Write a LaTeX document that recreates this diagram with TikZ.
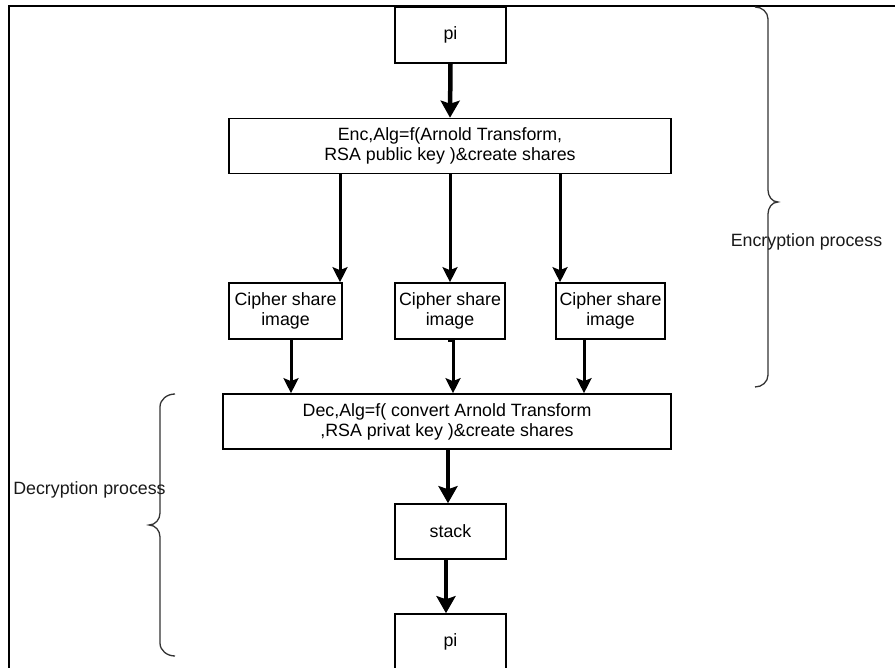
\documentclass[tikz,border=0pt]{standalone}
\usepackage{fontspec}
\setmainfont{Liberation Sans}
\usetikzlibrary{arrows.meta}
\begin{document}
\begin{tikzpicture}[x=1pt,y=-1pt,
  box/.style={draw=black,line width=1.6pt,fill=white,inner sep=0pt,align=center,
    font=\fontsize{17.8}{20}\selectfont,text=black},
  thinarr/.style={line width=3pt,-{Stealth[length=15pt,width=15pt,inset=3pt]}},
  thickarr/.style={line width=4.5pt,-{Stealth[length=17pt,width=19pt,inset=3pt]}},
  bracepath/.style={draw=black!80,line width=1.3pt},
  lbl/.style={font=\fontsize{17.8}{20}\selectfont,text=black!90,inner sep=0pt}]
  \useasboundingbox (0,0) rectangle (895,668);
  % outer frame, running past the right and bottom edges
  \begin{scope}
    \clip (0,0) rectangle (895,668);
    \draw[line width=2pt] (8.7,6.5) rectangle (910,690);
  \end{scope}

  % boxes
  \node[box,minimum width=111pt,minimum height=56pt] (pitop) at (450.5,35) {pi};
  \node[box,minimum width=442pt,minimum height=55pt] (enc) at (450,146)
    {Enc,Alg=f(Arnold Transform,\\RSA public key )\&create shares};
  \node[box,minimum width=113pt,minimum height=56pt] (c1) at (285.5,311) {Cipher share\\image};
  \node[box,minimum width=110pt,minimum height=56pt] (c2) at (450,311) {Cipher share\\image};
  \node[box,minimum width=109pt,minimum height=56pt] (c3) at (610.5,311) {Cipher share\\image};
  \node[box,minimum width=448pt,minimum height=55pt] (dec) at (447,421.5)
    {Dec,Alg=f( convert Arnold Transform\\,RSA privat key )\&create shares};
  \node[box,minimum width=111pt,minimum height=55pt] (stack) at (450.5,531.5) {stack};
  \node[box,minimum width=111pt,minimum height=56pt] (pibot) at (450.5,642) {pi};

  % connectors
  \draw[thickarr] (pitop.south) -- (enc.north);
  \draw[thinarr] (enc.south -| 340,0) -- (c1.north -| 340,0);
  \draw[thinarr] (enc.south -| 450,0) -- (c2.north -| 450,0);
  \draw[thinarr] (enc.south -| 560,0) -- (c3.north -| 560,0);
  \draw[thinarr] (c1.south -| 291,0) -- (dec.north -| 291,0);
  \coordinate (c2out) at (448,340.5);
  \draw[thinarr] (c2out) -- ++(5,0) -- (dec.north -| 453,0);
  \draw[thinarr] (c3.south -| 584,0) -- (dec.north -| 584,0);
  \draw[thickarr] (dec.south -| 448,0) -- (stack.north -| 448,0);
  \draw[thickarr] (stack.south -| 446,0) -- (pibot.north -| 446,0);

  % curly braces marking the two stages
  \draw[bracepath] (755,7) to[out=0,in=90] (768,19) -- (768,190)
    to[out=-90,in=180] (778,202) to[out=180,in=90] (768,214) -- (768,375)
    to[out=-90,in=0] (755,387);
  \draw[bracepath] (175,394) to[out=180,in=90] (160,407) -- (160,513)
    to[out=-90,in=0] (149,525) to[out=0,in=90] (160,537) -- (160,643)
    to[out=-90,in=180] (175,656);
  \node[lbl] (enclbl) at (806.5,242) {Encryption process};
  \node[lbl] (declbl) at (89.5,490) {Decryption process};
\end{tikzpicture}
\end{document}
